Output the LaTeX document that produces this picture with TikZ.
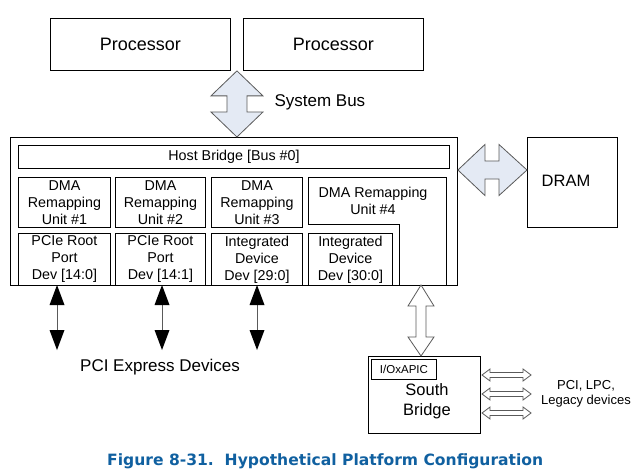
\documentclass[tikz,border=0pt]{standalone}
\usepackage{fontspec}
\setmainfont{Liberation Sans}
\newfontfamily\capfont{DejaVu Sans}
\usetikzlibrary{calc}
\definecolor{capblue}{RGB}{16,96,160}
\definecolor{busfill}{RGB}{228,234,244}
\definecolor{arrgray}{RGB}{90,90,90}
\begin{document}
\begin{tikzpicture}[x=1pt,y=-1pt,
  box/.style={draw=black,line width=0.9pt,inner sep=0pt,align=center,anchor=north west},
  small/.style={font=\fontsize{14.3}{17}\selectfont},
  bigarrow/.style={draw=arrgray,line width=0.8pt,fill=busfill,line join=miter},
  sbarrow/.style={draw=arrgray,line width=0.8pt,fill=white},
  thinarrow/.style={draw=arrgray,line width=0.9pt},
  tri/.style={fill=black,draw=none}]
\useasboundingbox (0,0) rectangle (640,476);
% processors
\node[box,minimum width=180pt,minimum height=52pt,font=\fontsize{18}{20}\selectfont] (p1) at (50,18) {Processor};
\node[box,minimum width=180pt,minimum height=52pt,font=\fontsize{18}{20}\selectfont] (p2) at (243,18) {Processor};
% host
\node[box,minimum width=447pt,minimum height=148pt] (host) at (10,137) {};
\node[box,minimum width=431pt,minimum height=23pt,small] (hb) at (18,145) {Host Bridge [Bus \#0]};
\node[box,minimum width=92pt,minimum height=50pt,small] (d1) at (18,177) {DMA\\Remapping\\Unit \#1};
\node[box,minimum width=90pt,minimum height=50pt,small] (d2) at (115,177) {DMA\\Remapping\\Unit \#2};
\node[box,minimum width=91pt,minimum height=50pt,small] (d3) at (211,177) {DMA\\Remapping\\Unit \#3};
\draw[line width=0.9pt] (308,224) -- (308,177) -- (446,177) -- (446,285);
\draw[line width=0.9pt] (308,224) -- (399,224) -- (399,285);
\node[small,align=center] (d4) at (373,201) {DMA Remapping\\Unit \#4};
\node[box,minimum width=92pt,minimum height=52pt,small] (r1) at (18,233) {PCIe Root\\Port\\Dev [14:0]};
\node[box,minimum width=90pt,minimum height=52pt,small] (r2) at (115,233) {PCIe Root\\Port\\Dev [14:1]};
\node[box,minimum width=91pt,minimum height=52pt,small] (r3) at (211,233) {Integrated\\Device\\Dev [29:0]};
\node[box,minimum width=84pt,minimum height=52pt,small] (r4) at (308,233) {Integrated\\Device\\Dev [30:0]};
% DRAM
\node[box,minimum width=90pt,minimum height=90pt] (dram) at (527,137) {};
\node[font=\fontsize{16.5}{18}\selectfont] (dramt) at (566,181) {DRAM};
% south bridge
\node[box,minimum width=112pt,minimum height=77pt] (sb) at (368,356) {};
\node[box,minimum width=65pt,minimum height=20pt,font=\fontsize{11.5}{13}\selectfont] (apic) at (371,359) {I/OxAPIC};
\node[font=\fontsize{16.5}{20.5}\selectfont,align=center] (sbt) at (427,401) {South\\Bridge};
% labels
\node[font=\fontsize{17}{19}\selectfont,anchor=west] (sysbus) at (271,102) {System Bus};
\node[font=\fontsize{17}{19}\selectfont] (pcie) at (160,367) {PCI Express Devices};
\node[font=\fontsize{13}{15}\selectfont,align=center] (legacy) at (586,394) {PCI, LPC,\\Legacy devices};
% system bus arrow
\coordinate (T) at ($(p1.south east)!.5!(p2.south west)$);
\coordinate (B) at (T |- host.north);
\draw[bigarrow] (T) -- ($(T)+(26,25)$) -- ($(T)+(10,25)$) -- ($(B)+(10,-25)$) -- ($(B)+(26,-25)$) -- (B)
  -- ($(B)+(-26,-25)$) -- ($(B)+(-10,-25)$) -- ($(T)+(-10,25)$) -- ($(T)+(-26,25)$) -- cycle;
% DRAM arrow
\coordinate (L) at (host.east |- 0,170);
\coordinate (R) at (dram.west |- 0,170);
\draw[bigarrow] (L) -- ($(L)+(27,-25.5)$) -- ($(L)+(27,-9)$) -- ($(R)+(-28,-9)$) -- ($(R)+(-28,-25.5)$) -- (R)
  -- ($(R)+(-28,25.5)$) -- ($(R)+(-28,9)$) -- ($(L)+(27,9)$) -- ($(L)+(27,25.5)$) -- cycle;
% south bridge arrow
\coordinate (ST) at (421,285);
\coordinate (SB) at (sb.north -| ST);
\draw[sbarrow] (ST) -- ($(ST)+(13,21)$) -- ($(ST)+(5,21)$) -- ($(SB)+(5,-19)$) -- ($(SB)+(13,-19)$) -- (SB)
  -- ($(SB)+(-13,-19)$) -- ($(SB)+(-5,-19)$) -- ($(ST)+(-5,21)$) -- ($(ST)+(-13,21)$) -- cycle;
% small legacy arrows
\foreach \yy/\nm in {375/a,394/b,413/c}{
  \coordinate (la\nm) at (482,\yy);
  \coordinate (ra\nm) at (531,\yy);
  \draw[sbarrow] (la\nm) -- ($(la\nm)+(8,-6)$) -- ($(la\nm)+(8,-2.5)$) -- ($(ra\nm)+(-8,-2.5)$) -- ($(ra\nm)+(-8,-6)$) -- (ra\nm)
    -- ($(ra\nm)+(-8,6)$) -- ($(ra\nm)+(-8,2.5)$) -- ($(la\nm)+(8,2.5)$) -- ($(la\nm)+(8,6)$) -- cycle;
}
% PCI express arrows
\foreach \xx/\nm in {57/a,162/b,257/c}{
  \coordinate (pt\nm) at (\xx,285);
  \coordinate (pb\nm) at (\xx,350);
  \draw[thinarrow] ($(pt\nm)+(0,18)$) -- ($(pb\nm)+(0,-18)$);
  \fill[tri] (pt\nm) -- ($(pt\nm)+(7.5,20)$) -- ($(pt\nm)+(-7.5,20)$) -- cycle;
  \fill[tri] (pb\nm) -- ($(pb\nm)+(7.5,-20)$) -- ($(pb\nm)+(-7.5,-20)$) -- cycle;
}
% caption
\node[anchor=west,text=capblue,inner sep=0pt] (cap) at (107,461) {\resizebox{436pt}{!}{\capfont\bfseries\fontsize{13}{15}\selectfont Figure 8-31.\ \ Hypothetical Platform Configuration}};
\end{tikzpicture}
\end{document}
